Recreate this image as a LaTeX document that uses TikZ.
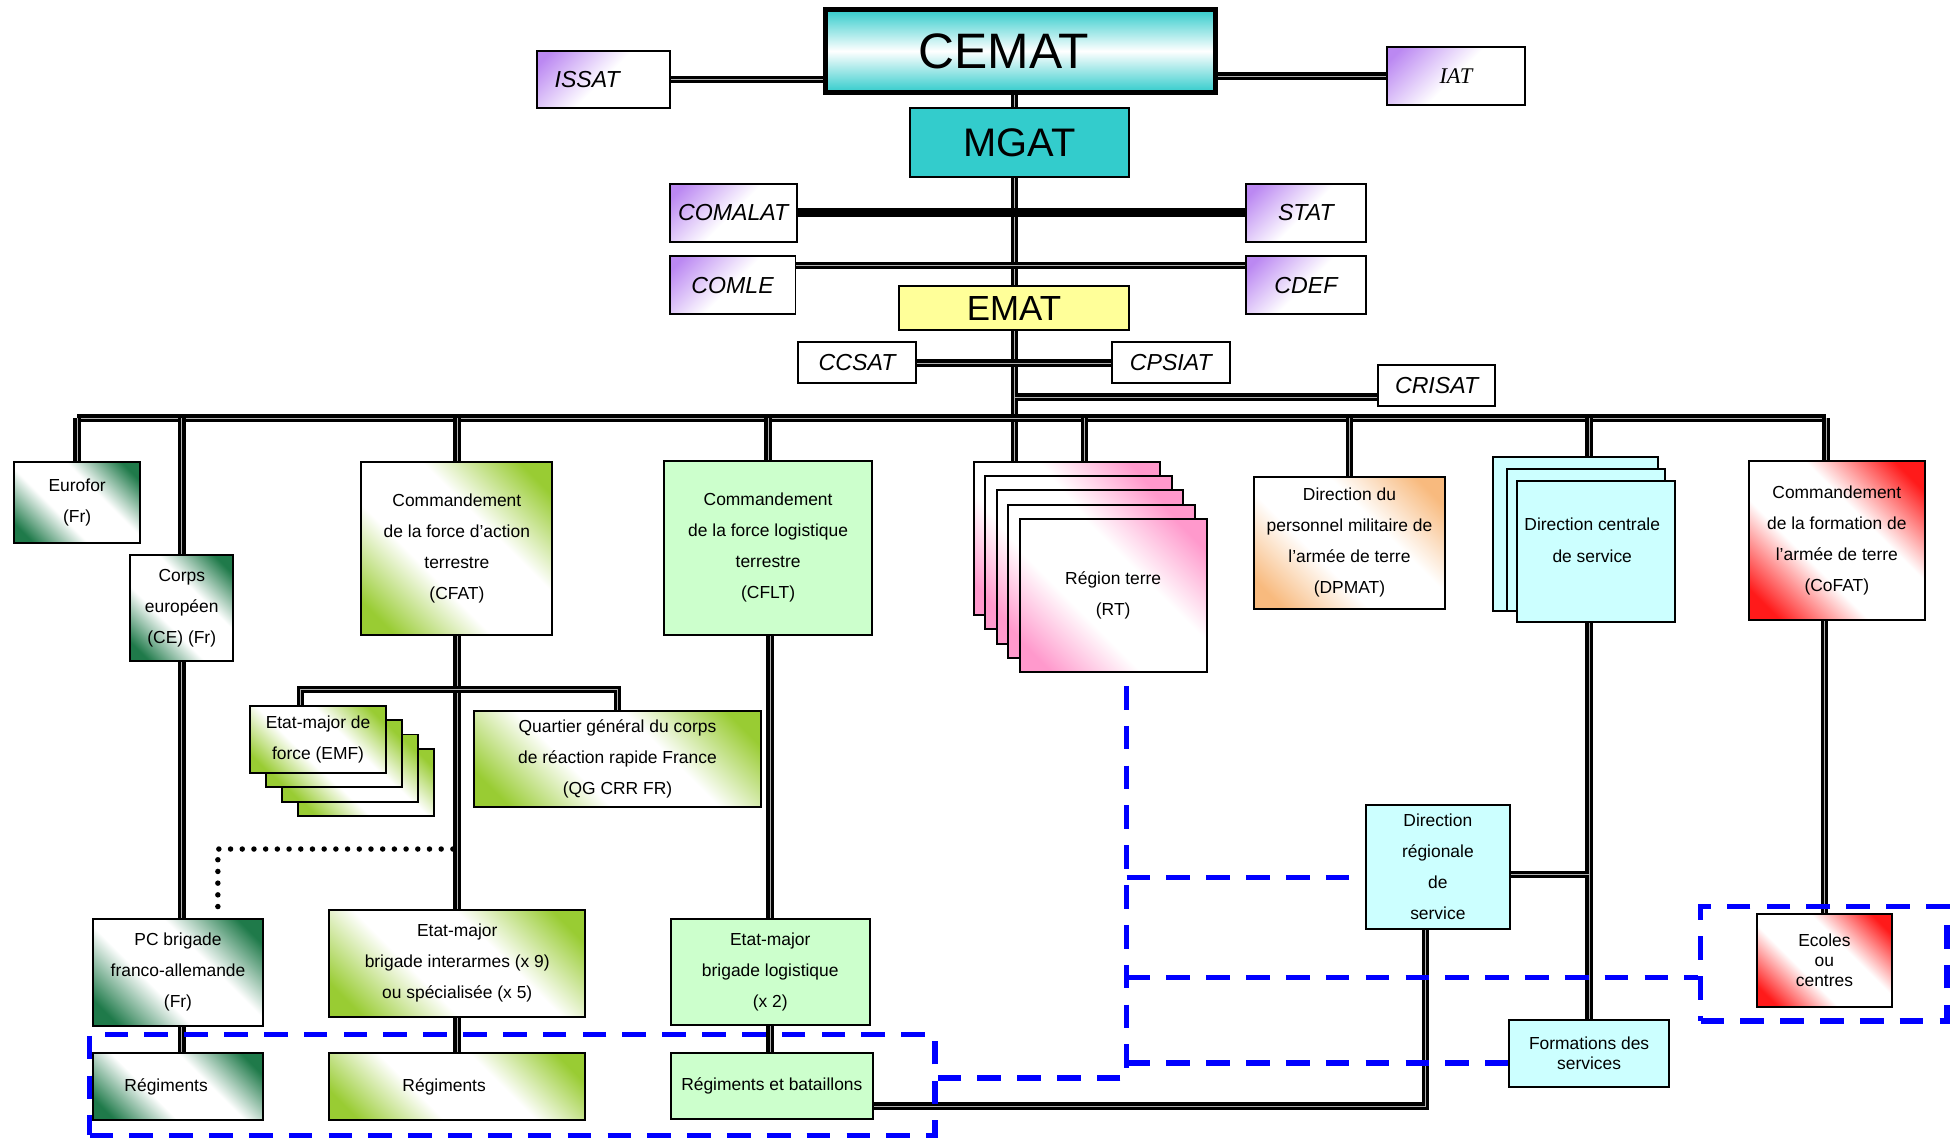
\documentclass[tikz,border=0pt]{standalone}
\usepackage{fontspec}
\setmainfont{Liberation Sans}
\newfontfamily\timesit{Liberation Serif}
\usetikzlibrary{backgrounds}

\definecolor{cemc}{HTML}{33CCCC}
\definecolor{purp}{HTML}{BB88F2}
\definecolor{dgreen}{HTML}{1F7A4A}
\definecolor{ygreen}{HTML}{99CC33}
\definecolor{pinkc}{HTML}{FF99CC}
\definecolor{orng}{HTML}{F8BA7E}
\definecolor{redc}{HTML}{FF1A1A}
\definecolor{lgreen}{HTML}{CCFFCC}
\definecolor{lcyan}{HTML}{CCFFFF}
\definecolor{yel}{HTML}{FFFF99}
\definecolor{dblue}{HTML}{0000FF}

\colorlet{cfade}{white}
\pgfdeclareverticalshading[cfade]{corners}{100bp}{color(0bp)=(cfade); color(21bp)=(cfade); color(40bp)=(white); color(60bp)=(white); color(79bp)=(cfade); color(100bp)=(cfade)}
\pgfdeclareverticalshading[cfade]{topcorner}{100bp}{color(0bp)=(white); color(50bp)=(white); color(80bp)=(cfade); color(100bp)=(cfade)}

\begin{document}
\begin{tikzpicture}[
  x=0.5pt, y=-0.5pt,
  box/.style={draw, line width=0.8pt, align=center, inner sep=1pt, font=\fontsize{7}{12.5}\selectfont},
  tight/.style={font=\fontsize{7}{8}\selectfont},
  ibox/.style={box, font=\fontsize{9.3}{11}\selectfont\itshape},
  fade/.style={shade, shading=corners, shading angle=-45, /utils/exec={\colorlet{cfade}{#1}}},
  lilac/.style={shade, shading=topcorner, shading angle=45, /utils/exec={\colorlet{cfade}{#1}}},
  conn/.style={line width=1.4pt, double=gray!60, double distance=0.25pt},
  heavy/.style={line width=3.6pt},
  dotline/.style={line width=2.2pt, line cap=round, dash pattern=on 0pt off 4.7pt},
  dashline/.style={draw=dblue, line width=2.2pt, dash pattern=on 9.5pt off 6.5pt},
  region/.style={dashline, inner sep=0pt}
  ]
\useasboundingbox (0,0) rectangle (1568,915);

% top of the chart
\node[box, line width=2pt, top color=cemc, bottom color=cemc, middle color=white, minimum width=156.5pt, minimum height=33pt, text width=81.5pt, align=left, font=\fontsize{20}{24}\selectfont] (cemat) at (819.5,41) {CEMAT};
\node[ibox, lilac=purp, minimum width=53.5pt, minimum height=23pt, text width=39pt, align=left] (issat) at (484.5,64) {ISSAT};
\node[box, lilac=purp, minimum width=55.5pt, minimum height=23pt, font=\fontsize{9}{11}\selectfont\timesit\itshape] (iat) at (1169.5,61) {IAT};
\node[box, fill=cemc, minimum width=88pt, minimum height=27.5pt, font=\fontsize{16}{19}\selectfont] (mgat) at (819,114.5) {MGAT};
\node[ibox, lilac=purp, minimum width=51pt, minimum height=23pt] (comalat) at (589,171) {COMALAT};
\node[ibox, lilac=purp, minimum width=48pt, minimum height=23pt] (stat) at (1049,171) {STAT};
\node[ibox, lilac=purp, minimum width=50.5pt, minimum height=23pt] (comle) at (588.5,229) {COMLE};
\node[ibox, lilac=purp, minimum width=48pt, minimum height=23pt] (cdef) at (1049,229) {CDEF};
\node[box, fill=yel, minimum width=92.5pt, minimum height=17.5pt, font=\fontsize{14}{17}\selectfont] (emat) at (814.5,247.5) {EMAT};
\node[ibox, fill=white, minimum width=47.5pt, minimum height=16.5pt] (ccsat) at (688.5,291.5) {CCSAT};
\node[ibox, fill=white, minimum width=47.5pt, minimum height=16.5pt] (cpsiat) at (940.5,291.5) {CPSIAT};
\node[ibox, fill=white, minimum width=47pt, minimum height=16.5pt] (crisat) at (1154,309.5) {CRISAT};

% second level
\node[box, fade=dgreen, minimum width=50.5pt, minimum height=32.5pt] (eurofor) at (62,403.5) {Eurofor\\(Fr)};
\node[box, fade=dgreen, minimum width=41.5pt, minimum height=42.5pt] (corps) at (146,488.5) {Corps\\européen\\(CE) (Fr)};
\node[box, fade=ygreen, minimum width=76.75pt, minimum height=69.5pt] (cfat) at (367,440.5) {Commandement\\de la force d’action\\terrestre\\(CFAT)};
\node[box, fill=lgreen, minimum width=83.5pt, minimum height=70pt] (cflt) at (617,440) {Commandement\\de la force logistique\\terrestre\\(CFLT)};
\foreach \i in {1,...,4}
  \node[box, fade=pinkc, minimum width=75pt, minimum height=61.5pt] (rt\i) at ({857+9.3*(\i-1)},{432.5+11.5*(\i-1)}) {};
\node[box, fade=pinkc, minimum width=75pt, minimum height=61.5pt] (rt5) at (894.2,478.5) {Région terre\\(RT)};
\node[box, fade=orng, minimum width=77pt, minimum height=53pt] (dpmat) at (1084,436) {Direction du\\personnel militaire de\\l’armée de terre\\(DPMAT)};
\node[box, fill=lcyan, minimum width=66.5pt, minimum height=62pt] (dcs1) at (1265.5,429) {};
\node[box, fill=lcyan, minimum width=63.5pt, minimum height=56.75pt] (dcs2) at (1274.3,433.8) {};
\node[box, fill=lcyan, minimum width=63.5pt, minimum height=57pt] (dcs3) at (1282,443) {};
\node[box, draw=none] (dcstxt) at (1279,434) {Direction centrale\\de service};
\node[box, fade=redc, minimum width=70.5pt, minimum height=64pt] (cofat) at (1475.5,434) {Commandement\\de la formation de\\l’armée de terre\\(CoFAT)};

% third level
\foreach \i in {4,3,2}
  \node[box, fade=ygreen, minimum width=54.5pt, minimum height=27pt] (emf\i) at ({255.5+12.8*(\i-1)},{594+11.5*(\i-1)}) {};
\node[box, fade=ygreen, minimum width=54.5pt, minimum height=27pt] (emf1) at (255.5,594) {Etat-major de\\force (EMF)};
\node[box, fade=ygreen, minimum width=115pt, minimum height=38.5pt] (qg) at (496,609.5) {Quartier général du corps\\de réaction rapide France\\(QG CRR FR)};
\node[box, fade=dgreen, minimum width=68pt, minimum height=43pt] (pcbrig) at (143,781) {PC brigade\\franco-allemande\\(Fr)};
\node[box, fade=ygreen, minimum width=102.7pt, minimum height=42.8pt] (embi) at (367.3,773.8) {Etat-major\\brigade interarmes (x 9)\\ou spécialisée (x 5)};
\node[box, fill=lgreen, minimum width=79.75pt, minimum height=42.75pt] (embl) at (618.75,780.75) {Etat-major\\brigade logistique\\(x 2)};
\node[box, fade=dgreen, minimum width=68pt, minimum height=27pt, text width=43pt, align=left] (reg1) at (143,873) {Régiments};
\node[box, fade=ygreen, minimum width=102.7pt, minimum height=27pt, text width=44pt, align=left] (reg2) at (367.3,873) {Régiments};
\node[box, fill=lgreen, minimum width=81pt, minimum height=26.5pt] (regbat) at (620,872.5) {Régiments et bataillons};
\node[box, fill=lcyan, minimum width=58pt, minimum height=49.5pt] (drs) at (1155,696.5) {Direction\\régionale\\de\\service};
\node[box, tight, fill=lcyan, minimum width=64.5pt, minimum height=27pt] (formations) at (1276.5,846) {Formations des\\services};
\node[box, tight, fade=redc, minimum width=54.5pt, minimum height=37.3pt] (ecoles) at (1465.5,771.3) {Ecoles\\ou\\centres};

% dashed groups
\node[region, minimum width=339.5pt, minimum height=40.5pt] (regl) at (411.5,871.5) {};
\node[region, minimum width=99pt, minimum height=46pt] (regr) at (1465,774) {};

\coordinate (spine) at (815,0);
\coordinate (busl) at (62,336);
\coordinate (busr) at (1467,336);
\coordinate (subbus) at (0,554);
\coordinate (crisatin) at ([yshift=-4.75pt]crisat.west);
\coordinate (rtin) at ([xshift=7pt]rt1.north);
\coordinate (drsout) at ([yshift=-3pt]drs.east);
\coordinate (dotc) at (366,682);

\begin{scope}[on background layer]
\fill[white] (0,0) rectangle (1568,915);
\draw[conn] (issat.east) -- (issat.east -| cemat.west);
\draw[conn] (iat.west) -- (iat.west -| cemat.east);
\draw[conn] (cemat.south -| spine) -- (rt1.north -| spine);
\draw[heavy] (comalat) -- (stat);
\draw[conn] ([yshift=-4pt]comle.north east) -- ([yshift=-4pt]cdef.north west);
\draw[conn] (ccsat) -- (cpsiat);
\draw[conn] (crisatin) -- (crisatin -| spine);
\draw[conn] (busl) -- (busr);
\draw[conn] (eurofor.north) -- (eurofor.north |- busl);
\draw[conn] (corps.north) -- (corps.north |- busl);
\draw[conn] (cfat.north) -- (cfat.north |- busl);
\draw[conn] (cflt.north) -- (cflt.north |- busl);
\draw[conn] (rtin) -- (rtin |- busl);
\draw[conn] (dpmat.north) -- (dpmat.north |- busl);
\draw[conn] (busl -| formations.north) -- (dcs1.north -| formations.north);
\draw[conn] (busr) -- (busr |- cofat.north);
\draw[conn] (corps.south) -- (corps.south |- pcbrig.north);
\draw[conn] (pcbrig.south -| corps.south) -- (reg1.north -| corps.south);
\draw[conn] (cfat.south) -- (cfat.south |- embi.north);
\draw[conn] ([xshift=-7pt]emf1.north) |- (qg.north |- subbus) -- (qg.north);
\draw[conn] (embi.south) -- (reg2.north);
\draw[conn] (cflt.south -| embl.north) -- (embl.north);
\draw[conn] (embl.south) -- (embl.south |- regbat.north);
\draw[conn] (formations.north) -- (formations.north |- dcs3.south);
\draw[conn] (drsout) -- (drsout -| formations.north);
\draw[conn] ([xshift=-5pt]drs.south) |- ([yshift=-8pt]regbat.east);
\draw[conn] (ecoles.north) -- (ecoles.north |- cofat.south);
\draw[dotline] ([xshift=16pt,yshift=4.5pt]pcbrig.north) |- (dotc);
\end{scope}

\coordinate (dtop) at (905,551);
\coordinate (dbot) at (905,866);
\coordinate (dstep) at (905,854);
\coordinate (dmid) at (905,705);
\coordinate (dlow) at (905,785);
\draw[dashline] (dtop) -- (dbot) -- (dbot -| regl.east);
\draw[dashline] (dstep) -- (dstep -| formations.west);
\draw[dashline] (dmid) -- (dmid -| drs.west);
\draw[dashline] (dlow) -- (dlow -| regr.west);
\end{tikzpicture}
\end{document}
